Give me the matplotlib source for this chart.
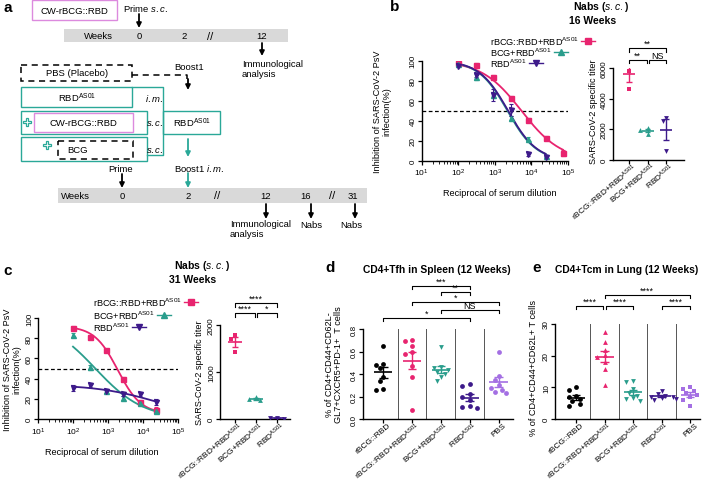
import numpy as np
import matplotlib
matplotlib.use('Agg')
import matplotlib.pyplot as plt
from matplotlib.patches import Rectangle
from matplotlib.lines import Line2D
from matplotlib.transforms import ScaledTranslation

plt.rcParams['font.family'] = ['Liberation Sans', 'DejaVu Sans']
plt.rcParams['mathtext.fontset'] = 'custom'
plt.rcParams['mathtext.rm'] = 'Liberation Sans'
plt.rcParams['mathtext.it'] = 'Liberation Sans:italic'
plt.rcParams['mathtext.bf'] = 'Liberation Sans:bold'
plt.rcParams['axes.linewidth'] = 1.0

W, H = 708, 481
AS = r'$^{\mathrm{AS01}}$'

PINK = '#e8246f'
TEAL = '#2a9d8c'
PURPLE = '#3d1a8a'
LILAC = '#a46fe3'
BOX_TEAL = '#2aa898'
BOX_PINK = '#dc8ade'

# === data: neutralisation curves ===
dil_b = [100, 300, 900, 2700, 8100, 24300, 72900]
inh_b_rbcg = [98, 96, 84, 63, 41, 23, 8]
sem_b_rbcg = [1.5, 2, 1.5, 2, 1.5, 2, 3]
inh_b_bcg = [97, 84, 66, 43, 22, 5]
sem_b_bcg = [1, 3, 3, 2, 2, 1]
inh_b_rbd = [95, 86, 66, 51, 7, 4]
sem_b_rbd = [1, 2, 6, 6, 2, 1]
# 4PL fit params: top, bottom, IC50, hill
fit_b_rbcg = (100, 0, 5300, 0.8)
fit_b_bcg = (100, 0, 2200, 1.1)
fit_b_rbd = (100, 0, 2300, 1.1)

dil_c = [100, 300, 900, 2700, 8100, 24300]
inh_c_rbcg = [90, 81, 68, 40, 17, 9]
sem_c_rbcg = [2, 2, 1.5, 2, 2, 3]
inh_c_bcg = [83, 51, 28, 21, 16, 8]
sem_c_bcg = [2, 2, 2, 2, 2, 2]
inh_c_rbd = [31, 34, 28, 25, 25, 17]
sem_c_rbd = [3, 2, 2, 2, 2, 3]
fit_c_rbcg = (92, 5, 1900, 1.3)
fit_c_bcg = (100, 0, 435, 0.63)
fit_c_rbd = (34, 0, 25000, 0.5)

# === data: titers ===
nab_groups = ['rBCG::RBD+RBD' + AS, 'BCG+RBD' + AS, 'RBD' + AS]
titer_b = [[6400, 5800, 4650], [2100, 1950, 1700], [2760, 2560, 570]]
titer_c = [[1790, 1700, 1420], [470, 430, 400], [25, 15, 10]]

# === data: T cells ===
cell_groups = ['rBCG::RBD', 'rBCG::RBD+RBD' + AS, 'BCG+RBD' + AS, 'RBD' + AS, 'PBS']
tfh = [[0.65, 0.49, 0.48, 0.45, 0.37, 0.34, 0.27, 0.26],
       [0.70, 0.69, 0.65, 0.60, 0.58, 0.47, 0.37, 0.08],
       [0.64, 0.46, 0.45, 0.44, 0.42, 0.40, 0.37, 0.34],
       [0.31, 0.29, 0.22, 0.20, 0.17, 0.12, 0.11, 0.10],
       [0.60, 0.38, 0.35, 0.30, 0.28, 0.26, 0.24, 0.23]]
tcm = [[10.0, 9.3, 7.2, 6.8, 6.3, 5.6, 4.8, 4.2],
       [27.4, 24.4, 21.9, 20.2, 19.5, 17.9, 15.8, 10.7],
       [12.1, 11.6, 9.5, 8.2, 7.4, 6.5, 6.3, 5.8],
       [9.0, 7.9, 7.4, 7.1, 6.8, 6.5, 6.3, 6.1],
       [10.2, 9.4, 9.0, 8.2, 7.6, 6.8, 6.0, 4.2]]

fig = plt.figure(figsize=(W / 100, H / 100), dpi=100)


def add_ax(x0, y0, x1, y1):
    return fig.add_axes([x0 / W, 1 - y1 / H, (x1 - x0) / W, (y1 - y0) / H])


# === panel a: schematic, drawn in pixel coords ===
ax0 = fig.add_axes([0, 0, 1, 1])
ax0.set_xlim(0, W)
ax0.set_ylim(H, 0)
ax0.axis('off')


def txt(x, y, s, size=6.8, **kw):
    ax0.text(x, y, s, fontsize=size, ha=kw.pop('ha', 'center'), va=kw.pop('va', 'center'), **kw)


def box(x0, y0, x1, y1, ec, ls='-', lw=1.0, fc='none'):
    ax0.add_patch(Rectangle((x0, y0), x1 - x0, y1 - y0, fc=fc, ec=ec, ls=ls, lw=lw))


def arrow(x, y0, y1, color='k'):
    ax0.annotate('', xy=(x, y1), xytext=(x, y0),
                 arrowprops=dict(arrowstyle='-|>', color=color, lw=1.3,
                                 mutation_scale=7, shrinkA=0, shrinkB=0))


box(32, 1, 117, 21, BOX_PINK)
txt(74.5, 11.5, 'CW-rBCG::RBD')
txt(145, 9, r'Prime $\mathit{s.c.}$')
arrow(139, 15, 29)
box(64, 30, 288, 43, 'none', fc='#d9d9d9')
for x, s in [(98, 'Weeks'), (139, '0'), (184, '2'), (210, '//'), (262, '12')]:
    txt(x, 36.5, s, size=8 if s == '//' else 6.8)
arrow(262, 44, 57)
txt(242, 60, 'Immunological\nanalysis', ha='left', va='top', linespacing=1.1)

dash = (0, (4, 3))
box(21, 66, 132, 82, 'k', ls=dash, lw=1.1)
txt(77, 74, 'PBS (Placebo)')
ax0.plot([132, 187, 187], [76, 76, 80], color='k', ls=dash, lw=1.1)
arrow(188, 80, 91)
txt(189, 68, 'Boost1')

box(21, 88, 132, 108, BOX_TEAL)
txt(77, 98, 'RBD' + AS)
txt(154, 98, r'$\mathit{i.m.}$')
ax0.plot([132, 163, 163, 147], [88, 88, 156, 156], color=BOX_TEAL, lw=1.0)
box(163, 112, 220, 135, BOX_TEAL)
txt(192, 123, 'RBD' + AS)

box(21, 112, 147, 135, BOX_TEAL)
ax0.plot([27], [123], marker='P', ms=6, mfc='white', mec=BOX_TEAL, mew=0.9)
box(34, 114, 133, 133, BOX_PINK)
txt(83, 123.5, 'CW-rBCG::RBD')
txt(155, 123, r'$\mathit{s.c.}$')

box(21, 138, 147, 162, BOX_TEAL)
ax0.plot([47], [146], marker='P', ms=6, mfc='white', mec=BOX_TEAL, mew=0.9)
box(58, 142, 133, 160, 'k', ls=dash, lw=1.1)
txt(78, 151, 'BCG')
txt(155, 151, r'$\mathit{s.c.}$')

arrow(188, 140, 158, BOX_TEAL)
txt(199, 169, r'Boost1 $\mathit{i.m.}$')
arrow(188, 174, 189, BOX_TEAL)
txt(121, 170, 'Prime')
arrow(122, 175, 189)
box(58, 189, 367, 204, 'none', fc='#d9d9d9')
for x, s in [(75, 'Weeks'), (122, '0'), (188, '2'), (217, '//'), (266, '12'),
             (306, '16'), (332, '//'), (353, '31')]:
    txt(x, 196.5, s, size=8 if s == '//' else 6.8)
arrow(266, 205, 220)
arrow(311, 205, 220)
arrow(355, 205, 220)
txt(230, 220, 'Immunological\nanalysis', ha='left', va='top', linespacing=1.1)
txt(311, 226, 'Nabs')
txt(351, 226, 'Nabs')

# panel letters and titles
for x, y, s in [(8, 8, 'a'), (395, 7, 'b'), (8, 271, 'c'), (330, 268, 'd'), (537, 268, 'e')]:
    txt(x, y, s, size=11, fontweight='bold')
txt(601, 7, r'Nabs ($\mathit{s.c.}$)', size=7.5, fontweight='bold')
txt(593, 21, '16 Weeks', size=7.5, fontweight='bold')
txt(202, 266, r'Nabs ($\mathit{s.c.}$)', size=7.5, fontweight='bold')
txt(193, 280, '31 Weeks', size=7.5, fontweight='bold')
txt(437, 270, 'CD4+Tfh in Spleen (12 Weeks)', size=7.4, fontweight='bold')
txt(627, 270, 'CD4+Tcm in Lung (12 Weeks)', size=7.4, fontweight='bold')


# === helpers for plots ===
def prism(ax, yticks):
    ax.spines[['top', 'right']].set_visible(False)
    ax.set_yticks(yticks)
    ax.tick_params(labelsize=6.0, width=0.9, length=3, pad=1.5)
    ax.tick_params(axis='y', labelrotation=90, pad=0.6, labelsize=5.8)
    plt.setp(ax.get_yticklabels(), va='center')


def ylabel_at(ax, s, x, y):
    ax.set_ylabel(s, fontsize=6.6, va='center', linespacing=1.1)
    ax.yaxis.set_label_coords(x / W, 1 - y / H, transform=fig.transFigure)


def curve_panel(ax, dil, series):
    ax.set_xscale('log')
    ax.set_xlim(10, 1e5)
    ax.set_ylim(0, 100)
    prism(ax, [0, 20, 40, 60, 80, 100])
    ax.axhline(50, ls='--', color='k', lw=0.9, dashes=(3, 2))
    for y, e, fit, c, m in series:
        d = np.array(dil[:len(y)], dtype=float)
        top, bot, ic50, h = fit
        xs = np.logspace(np.log10(d[0]), np.log10(d[-1]), 200)
        ax.plot(xs, bot + (top - bot) / (1 + (xs / ic50) ** h), color=c, lw=1.3, zorder=2)
        ax.errorbar(d, y, yerr=e, fmt=m, color=c, ms=3.6, elinewidth=0.8,
                    capsize=1.5, capthick=0.8, zorder=3)
    ax.set_xlabel('Reciprocal of serum dilution', fontsize=6.6)


def legend_rows(x, y, dy, rows):
    r = fig.canvas.get_renderer()
    for i, (lab, c, m) in enumerate(rows):
        yy = 1 - (y + i * dy) / H
        t = fig.text(x / W, yy, lab, fontsize=6.6, va='center', ha='left')
        xm = t.get_window_extent(r).x1 + 9
        fig.add_artist(Line2D([(xm - 7) / W, (xm + 7) / W], [yy, yy], color=c, lw=1.0,
                              transform=fig.transFigure))
        fig.add_artist(Line2D([xm / W], [yy], color=c, marker=m, ms=3.8,
                              transform=fig.transFigure))


def swarm(vals, ypx, xpx, r=4.6):
    placed, offs = [], []
    for v in vals:
        y = v * ypx
        x = 0.0
        for k in [0, -1, 1, -2, 2, -3, 3, -4, 4]:
            x = k * r * 0.8
            if all((x - a) ** 2 + (y - b) ** 2 >= r * r for a, b in placed):
                break
        placed.append((x, y))
        offs.append(x / xpx)
    return np.array(offs)


def dot_panel(ax, groups, colors, markers, ypx, xpx):
    for i, (vals, c, m) in enumerate(zip(groups, colors, markers)):
        vals = np.array(vals, dtype=float)
        ax.scatter(i + swarm(vals, ypx, xpx), vals, marker=m, s=12, color=c, lw=0, zorder=3)
        mu = vals.mean()
        se = vals.std(ddof=1) / np.sqrt(len(vals))
        ax.hlines(mu, i - 0.32, i + 0.32, color=c, lw=1.2, zorder=4)
        ax.vlines(i, mu - se, mu + se, color=c, lw=1.0, zorder=4)
        ax.hlines([mu - se, mu + se], i - 0.15, i + 0.15, color=c, lw=1.0, zorder=4)


def cat_labels(ax, labels):
    ax.set_xticks(range(len(labels)))
    ax.set_xticklabels(labels, rotation=40, ha='right', va='center',
                       rotation_mode='anchor', fontsize=6.0)
    ax.tick_params(axis='x', pad=0.5)
    shift = ScaledTranslation(5 / 72, 0, fig.dpi_scale_trans)
    for lab in ax.get_xticklabels():
        lab.set_transform(lab.get_transform() + shift)


def bracket(ax, x0, x1, y, tick, label):
    ax.plot([x0, x0, x1, x1], [y - tick, y, y, y - tick], color='k', lw=0.8, clip_on=False)
    ax.text((x0 + x1) / 2, y, label, ha='center', va='bottom', fontsize=6.4, clip_on=False)


# === panel b ===
axb = add_ax(421.7, 61.7, 568, 161.7)
curve_panel(axb, dil_b, [(inh_b_rbcg, sem_b_rbcg, fit_b_rbcg, PINK, 's'),
                         (inh_b_bcg, sem_b_bcg, fit_b_bcg, TEAL, '^'),
                         (inh_b_rbd, sem_b_rbd, fit_b_rbd, PURPLE, 'v')])
ylabel_at(axb, 'Inhibition of SARS-CoV-2 PsV\ninfection(%)', 382, 112)
axb.xaxis.set_label_coords(500 / W, 1 - 189 / H, transform=fig.transFigure)

axb2 = add_ax(613, 69.3, 684, 160.7)
axb2.set_xlim(-0.85, 2.95)
axb2.set_ylim(0, 6000)
prism(axb2, [0, 2000, 4000, 6000])
dot_panel(axb2, titer_b, [PINK, TEAL, PURPLE], ['s', '^', 'v'], 0.01523, 18.5)
cat_labels(axb2, nab_groups)
ylabel_at(axb2, 'SARS-CoV-2 specific titer', 593, 112)
bracket(axb2, 0, 2, 7330, 230, '**')
bracket(axb2, 0, 0.95, 6550, 230, '**')
bracket(axb2, 1.05, 2, 6550, 230, 'NS')

# === panel c ===
axc = add_ax(38, 319, 178, 420)
curve_panel(axc, dil_c, [(inh_c_rbcg, sem_c_rbcg, fit_c_rbcg, PINK, 's'),
                         (inh_c_bcg, sem_c_bcg, fit_c_bcg, TEAL, '^'),
                         (inh_c_rbd, sem_c_rbd, fit_c_rbd, PURPLE, 'v')])
ylabel_at(axc, 'Inhibition of SARS-CoV-2 PsV\ninfection(%)', 12, 370)
axc.xaxis.set_label_coords(102 / W, 1 - 448 / H, transform=fig.transFigure)

axc2 = add_ax(220, 326, 290, 420)
axc2.set_xlim(-0.71, 2.62)
axc2.set_ylim(0, 2000)
prism(axc2, [0, 1000, 2000])
dot_panel(axc2, titer_c, [PINK, TEAL, PURPLE], ['s', '^', 'v'], 0.047, 21)
cat_labels(axc2, nab_groups)
ylabel_at(axc2, 'SARS-CoV-2 specific titer', 199, 373)
bracket(axc2, 0, 2, 2468, 75, '****')
bracket(axc2, 0, 0.95, 2255, 75, '****')
bracket(axc2, 1.05, 2, 2255, 75, '*')

legend_rows(490, 42, 11, [('rBCG::RBD+RBD' + AS, PINK, 's'),
                          ('BCG+RBD' + AS, TEAL, '^'),
                          ('RBD' + AS, PURPLE, 'v')])
legend_rows(93, 303, 12.5, [('rBCG::RBD+RBD' + AS, PINK, 's'),
                            ('BCG+RBD' + AS, TEAL, '^'),
                            ('RBD' + AS, PURPLE, 'v')])

# === panel d ===
axd = add_ax(363, 330, 513, 420)
axd.set_xlim(-0.7, 4.5)
axd.set_ylim(0, 0.8)
prism(axd, [0, 0.2, 0.4, 0.6, 0.8])
for i in range(4):
    axd.axvline(i + 0.5, color='#555555', lw=0.7, zorder=1)
dot_panel(axd, tfh, ['k', PINK, TEAL, PURPLE, LILAC], ['o', 'o', 'v', 'o', 'o'], 112.5, 28.75)
cat_labels(axd, cell_groups)
ylabel_at(axd, '% of CD4+CD44+CD62L-\nGL7+CXCR5+PD-1+  T cells', 334, 365)
bracket(axd, 1, 3, 1.182, 0.03, '***')
bracket(axd, 2, 3, 1.129, 0.03, '**')
bracket(axd, 1, 4, 1.04, 0.03, '*')
bracket(axd, 2, 4, 0.969, 0.03, 'NS')
bracket(axd, 0, 3, 0.898, 0.03, '*')

# === panel e ===
axe = add_ax(555, 325, 700, 420)
axe.set_xlim(-0.74, 4.35)
axe.set_ylim(0, 30)
prism(axe, [0, 10, 20, 30])
for i in range(4):
    axe.axvline(i + 0.5, color='#555555', lw=0.7, zorder=1)
dot_panel(axe, tcm, ['k', PINK, TEAL, PURPLE, LILAC], ['o', '^', 'v', 'v', 's'], 3.167, 28.5)
cat_labels(axe, cell_groups)
ylabel_at(axe, '% of CD4+CD44+CD62L+ T cells', 534, 368)
bracket(axe, 1, 4, 39.2, 1.1, '****')
bracket(axe, 0, 0.95, 35.7, 1.1, '****')
bracket(axe, 1.05, 2, 35.7, 1.1, '****')
bracket(axe, 3, 4, 35.7, 1.1, '****')

fig.savefig('out.png', dpi=100)
